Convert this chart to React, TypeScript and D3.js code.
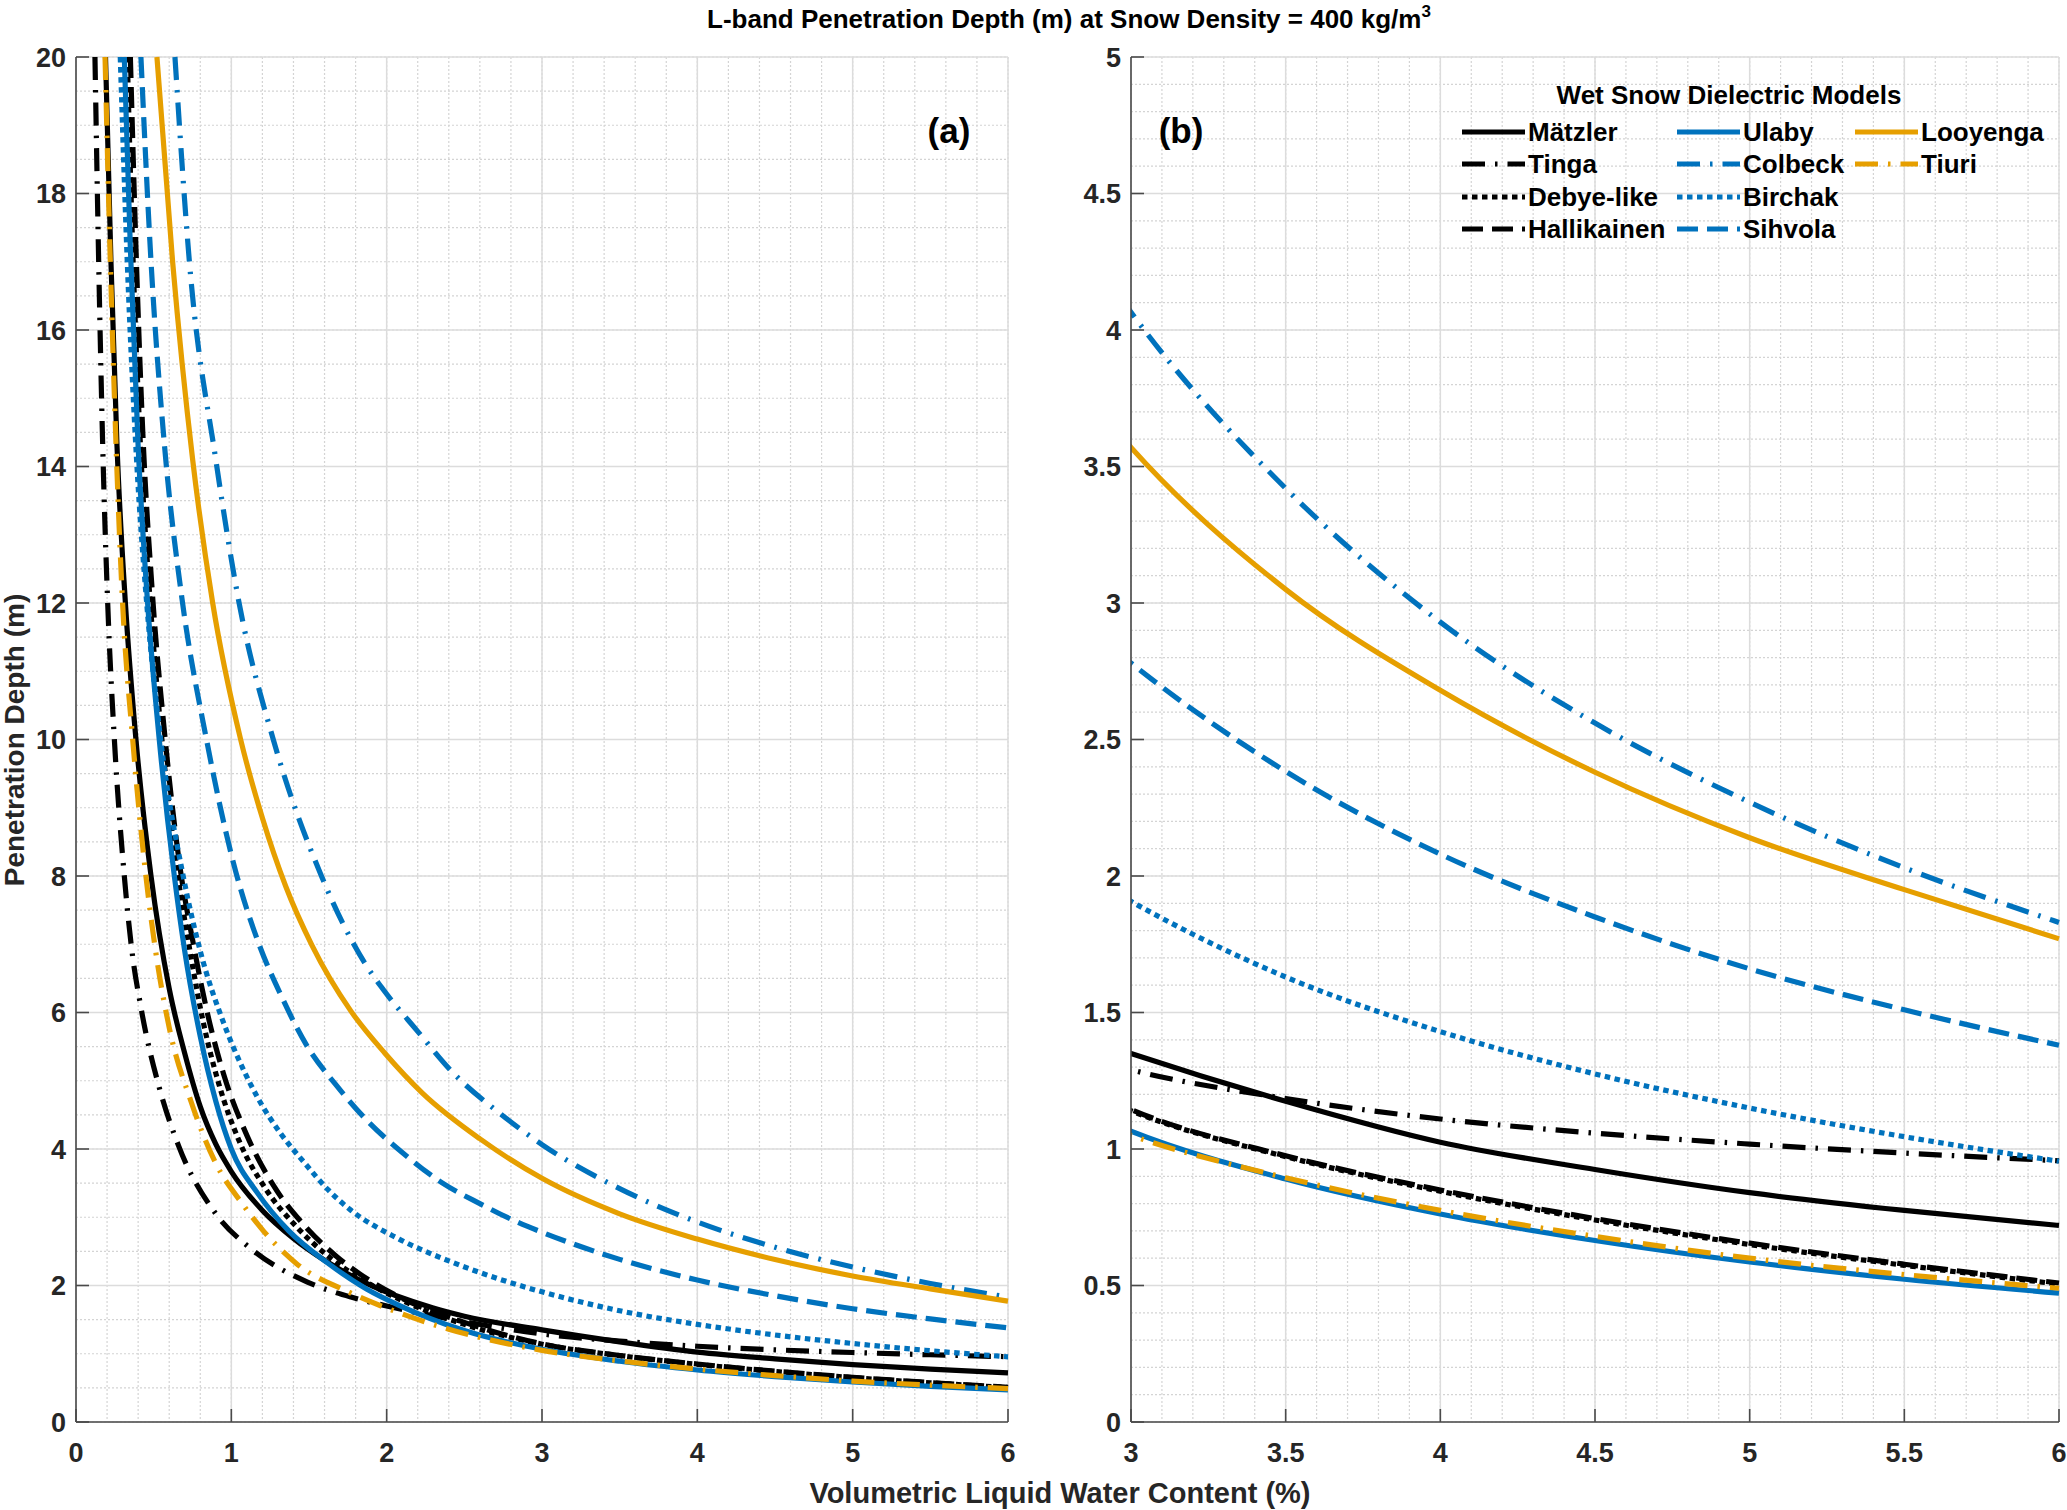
import { useEffect, useRef } from 'react';
import * as d3 from 'd3';

type Pt = [number, number];

// penetration depth (m) vs volumetric liquid water content (%)
const matzler: Pt[] = [
  [0.19, 20], [0.225, 17], [0.264, 14.3], [0.318, 12], [0.386, 10], [0.483, 8], [0.6, 6.35], [0.7, 5.4],
  [0.8, 4.62], [0.9, 4.07], [1.0, 3.67], [1.2, 3.1], [1.4, 2.69], [1.6, 2.37], [1.87, 2.03], [2.3, 1.67],
  [2.5, 1.55], [3, 1.35], [3.5, 1.175], [4, 1.025], [4.5, 0.925], [5, 0.84], [5.5, 0.775], [6, 0.72],
];
const tinga: Pt[] = [
  [0.122, 20], [0.146, 17], [0.172, 14.3], [0.204, 12], [0.247, 10], [0.311, 8], [0.358, 6.94], [0.42, 6.05],
  [0.536, 4.9], [0.66, 4.05], [0.9, 3.05], [1.12, 2.55], [1.49, 2.05], [1.77, 1.83], [2.0, 1.7], [2.5, 1.47],
  [3, 1.29], [3.5, 1.185], [4, 1.11], [4.5, 1.058], [5, 1.018], [5.5, 0.985], [6, 0.957],
];
const debyeLike: Pt[] = [
  [0.33, 20], [0.365, 17.2], [0.415, 14.3], [0.475, 12.1], [0.553, 10], [0.65, 8.1], [0.73, 6.95], [0.82, 5.85],
  [0.92, 4.95], [1.05, 4.12], [1.22, 3.42], [1.42, 2.86], [1.64, 2.4], [1.9, 2.01], [2.1, 1.78], [2.5, 1.43],
  [3, 1.14], [3.5, 0.972], [4, 0.845], [4.5, 0.74], [5, 0.65], [5.5, 0.574], [6, 0.505],
];
const hallikainen: Pt[] = [
  [0.35, 20], [0.386, 17.2], [0.43, 14.5], [0.49, 12.2], [0.57, 10.1], [0.665, 8.2], [0.76, 6.95], [0.85, 5.95],
  [0.95, 5.1], [1.1, 4.2], [1.27, 3.47], [1.47, 2.88], [1.67, 2.44], [1.9, 2.06], [2.1, 1.81], [2.5, 1.46],
  [3, 1.145], [3.5, 0.975], [4, 0.85], [4.5, 0.745], [5, 0.655], [5.5, 0.578], [6, 0.509],
];
const ulaby: Pt[] = [
  [0.311, 20], [0.35, 17.2], [0.4, 14.3], [0.461, 12], [0.536, 10], [0.633, 8], [0.7, 6.9], [0.8, 5.65],
  [0.9, 4.7], [1.0, 4.0], [1.17, 3.35], [1.37, 2.8], [1.62, 2.33], [1.87, 1.95], [2.08, 1.71], [2.5, 1.34],
  [3, 1.065], [3.5, 0.89], [4, 0.762], [4.5, 0.665], [5, 0.586], [5.5, 0.523], [6, 0.472],
];
const colbeck: Pt[] = [
  [0.637, 20], [0.73, 17], [0.9, 14.1], [1.05, 12], [1.27, 10], [1.58, 8], [1.86, 6.72], [1.99, 6.3],
  [2.19, 5.75], [2.43, 5.11], [2.73, 4.52], [3, 4.065], [3.5, 3.42], [4, 2.93], [4.5, 2.56], [5, 2.27],
  [5.5, 2.03], [6, 1.83],
];
const birchak: Pt[] = [
  [0.285, 20], [0.33, 17], [0.39, 14.1], [0.455, 12], [0.545, 10], [0.69, 8], [0.8, 6.9], [0.95, 5.85],
  [1.07, 5.2], [1.17, 4.75], [1.32, 4.22], [1.47, 3.8], [1.62, 3.41], [1.76, 3.12], [2.08, 2.68], [2.4, 2.36],
  [2.73, 2.09], [3, 1.907], [3.5, 1.63], [4, 1.43], [4.5, 1.275], [5, 1.15], [5.5, 1.045], [6, 0.955],
];
const sihvola: Pt[] = [
  [0.418, 20], [0.483, 17], [0.57, 14.3], [0.68, 12.1], [0.84, 10], [1.03, 8.05], [1.17, 7.05], [1.32, 6.25],
  [1.49, 5.5], [1.67, 4.95], [1.86, 4.45], [2.11, 3.93], [2.36, 3.5], [2.6, 3.2], [2.85, 2.92], [3, 2.78],
  [3.5, 2.383], [4, 2.08], [4.5, 1.85], [5, 1.66], [5.5, 1.51], [6, 1.38],
];
const looyenga: Pt[] = [
  [0.521, 20], [0.622, 17], [0.751, 14.1], [0.88, 12], [1.06, 10], [1.2, 8.85], [1.35, 7.85], [1.52, 6.98],
  [1.77, 6.02], [1.99, 5.4], [2.23, 4.82], [2.6, 4.15], [3, 3.57], [3.5, 3.05], [4, 2.68], [4.5, 2.38],
  [5, 2.14], [5.5, 1.95], [6, 1.77],
];
const tiuri: Pt[] = [
  [0.187, 20], [0.221, 17], [0.258, 14.3], [0.3, 12], [0.365, 10], [0.45, 8], [0.51, 6.94], [0.6, 5.78],
  [0.74, 4.7], [0.9, 3.79], [1.07, 3.2], [1.21, 2.79], [1.42, 2.32], [1.76, 1.9], [2.08, 1.6], [2.4, 1.36],
  [2.73, 1.17], [3, 1.05], [3.5, 0.895], [4, 0.775], [4.5, 0.68], [5, 0.6], [5.5, 0.54], [6, 0.49],
];

const BLACK = '#000000';
const BLUE = '#0072BD';
const ORANGE = '#E69F00';

const SOLID = '';
const DASHED = '21,9';
const DASHDOT = '23,10,2.5,10';
const DOTTED = '5.5,4.5';
const LW = 5.2;

// legend order (column-major), also drawing order
const series = [
  { name: 'Mätzler', data: matzler, color: BLACK, dash: SOLID },
  { name: 'Tinga', data: tinga, color: BLACK, dash: DASHDOT },
  { name: 'Debye-like', data: debyeLike, color: BLACK, dash: DOTTED },
  { name: 'Hallikainen', data: hallikainen, color: BLACK, dash: DASHED },
  { name: 'Ulaby', data: ulaby, color: BLUE, dash: SOLID },
  { name: 'Colbeck', data: colbeck, color: BLUE, dash: DASHDOT },
  { name: 'Birchak', data: birchak, color: BLUE, dash: DOTTED },
  { name: 'Sihvola', data: sihvola, color: BLUE, dash: DASHED },
  { name: 'Looyenga', data: looyenga, color: ORANGE, dash: SOLID },
  { name: 'Tiuri', data: tiuri, color: ORANGE, dash: DASHDOT },
];

const W = 2067;
const H = 1510;
const FONT = '"Liberation Sans", Arial, Helvetica, sans-serif';

interface PanelSpec {
  id: string;
  box: { x0: number; x1: number; y0: number; y1: number };
  xDom: [number, number];
  yDom: [number, number];
  xMajor: number;
  xMinor: number;
  yMajor: number;
  yMinor: number;
  tag: string;
  tagX: number;
}

const stepTicks = (lo: number, hi: number, step: number) => {
  const n = Math.round((hi - lo) / step);
  return d3.range(n + 1).map(i => +(lo + i * step).toFixed(6));
};

export default function App() {
  const svgRef = useRef<SVGSVGElement>(null);

  useEffect(() => {
    if (!svgRef.current) return;
    const svg = d3.select(svgRef.current);
    svg.selectAll('*').remove();
    svg.style('font-family', FONT);

    const panels: PanelSpec[] = [
      { id: 'a', box: { x0: 76, x1: 1008, y0: 57, y1: 1422 }, xDom: [0, 6], yDom: [0, 20],
        xMajor: 1, xMinor: 0.2, yMajor: 2, yMinor: 0.5, tag: '(a)', tagX: 949 },
      { id: 'b', box: { x0: 1131, x1: 2059, y0: 57, y1: 1422 }, xDom: [3, 6], yDom: [0, 5],
        xMajor: 0.5, xMinor: 0.1, yMajor: 0.5, yMinor: 0.1, tag: '(b)', tagX: 1181 },
    ];

    panels.forEach(p => {
      const x = d3.scaleLinear().domain(p.xDom).range([p.box.x0, p.box.x1]);
      const y = d3.scaleLinear().domain(p.yDom).range([p.box.y1, p.box.y0]);
      const g = svg.append('g');

      // minor grid
      g.append('g').selectAll('line')
        .data(stepTicks(p.xDom[0], p.xDom[1], p.xMinor))
        .join('line')
        .attr('x1', d => x(d)).attr('x2', d => x(d))
        .attr('y1', p.box.y0).attr('y2', p.box.y1)
        .attr('stroke', '#d4d4d4').attr('stroke-width', 1.2).attr('stroke-dasharray', '2,2');
      g.append('g').selectAll('line')
        .data(stepTicks(p.yDom[0], p.yDom[1], p.yMinor))
        .join('line')
        .attr('y1', d => y(d)).attr('y2', d => y(d))
        .attr('x1', p.box.x0).attr('x2', p.box.x1)
        .attr('stroke', '#d4d4d4').attr('stroke-width', 1.2).attr('stroke-dasharray', '2,2');

      // major grid
      const xMaj = stepTicks(p.xDom[0], p.xDom[1], p.xMajor);
      const yMaj = stepTicks(p.yDom[0], p.yDom[1], p.yMajor);
      g.append('g').selectAll('line')
        .data(xMaj)
        .join('line')
        .attr('x1', d => x(d)).attr('x2', d => x(d))
        .attr('y1', p.box.y0).attr('y2', p.box.y1)
        .attr('stroke', '#dcdcdc').attr('stroke-width', 1.5);
      g.append('g').selectAll('line')
        .data(yMaj)
        .join('line')
        .attr('y1', d => y(d)).attr('y2', d => y(d))
        .attr('x1', p.box.x0).attr('x2', p.box.x1)
        .attr('stroke', '#dcdcdc').attr('stroke-width', 1.5);

      // curves
      const clipId = `clip-${p.id}`;
      svg.append('clipPath').attr('id', clipId)
        .append('rect')
        .attr('x', p.box.x0).attr('y', p.box.y0 - 3)
        .attr('width', p.box.x1 - p.box.x0 + 4).attr('height', p.box.y1 - p.box.y0 + 3);

      const line = d3.line<Pt>()
        .x(d => x(d[0]))
        .y(d => y(d[1]))
        .curve(d3.curveMonotoneX);

      const curves = g.append('g').attr('clip-path', `url(#${clipId})`);
      series.forEach(s => {
        const pts = p.id === 'a' ? s.data : s.data.filter(d => d[0] >= 2.4);
        curves.append('path')
          .attr('d', line(pts))
          .attr('fill', 'none')
          .attr('stroke', s.color)
          .attr('stroke-width', LW)
          .attr('stroke-linecap', 'butt')
          .attr('stroke-linejoin', 'round')
          .attr('stroke-dasharray', s.dash || null);
      });

      // axes
      const ax = '#4a4a4a';
      g.append('line')
        .attr('x1', p.box.x0).attr('x2', p.box.x1)
        .attr('y1', p.box.y1).attr('y2', p.box.y1)
        .attr('stroke', ax).attr('stroke-width', 1.6);
      g.append('line')
        .attr('x1', p.box.x0).attr('x2', p.box.x0)
        .attr('y1', p.box.y0).attr('y2', p.box.y1)
        .attr('stroke', ax).attr('stroke-width', 1.6);

      g.append('g').selectAll('line')
        .data(xMaj)
        .join('line')
        .attr('x1', d => x(d)).attr('x2', d => x(d))
        .attr('y1', p.box.y1).attr('y2', p.box.y1 - 13)
        .attr('stroke', ax).attr('stroke-width', 1.6);
      g.append('g').selectAll('line')
        .data(yMaj)
        .join('line')
        .attr('y1', d => y(d)).attr('y2', d => y(d))
        .attr('x1', p.box.x0).attr('x2', p.box.x0 + 13)
        .attr('stroke', ax).attr('stroke-width', 1.6);

      // tick labels
      g.append('g').selectAll('text')
        .data(xMaj)
        .join('text')
        .attr('x', d => x(d))
        .attr('y', 1462)
        .attr('text-anchor', 'middle')
        .attr('font-size', 27)
        .attr('font-weight', 'bold')
        .attr('fill', '#262626')
        .text(d => String(d));
      g.append('g').selectAll('text')
        .data(yMaj)
        .join('text')
        .attr('x', p.box.x0 - 10)
        .attr('y', d => y(d))
        .attr('dy', '0.36em')
        .attr('text-anchor', 'end')
        .attr('font-size', 27)
        .attr('font-weight', 'bold')
        .attr('fill', '#262626')
        .text(d => String(d));

      g.append('text')
        .attr('x', p.tagX)
        .attr('y', 143)
        .attr('text-anchor', 'middle')
        .attr('font-size', 35)
        .attr('font-weight', 'bold')
        .attr('fill', '#000')
        .text(p.tag);
    });

    // title
    const title = svg.append('text')
      .attr('x', 1069)
      .attr('y', 28)
      .attr('text-anchor', 'middle')
      .attr('font-size', 26)
      .attr('font-weight', 'bold')
      .attr('fill', '#000');
    title.append('tspan').text('L-band Penetration Depth (m) at Snow Density = 400 kg/m');
    title.append('tspan').attr('dy', -11).attr('font-size', 17).text('3');

    // axis labels
    svg.append('text')
      .attr('x', 1060)
      .attr('y', 1503)
      .attr('text-anchor', 'middle')
      .attr('font-size', 29)
      .attr('font-weight', 'bold')
      .attr('fill', '#262626')
      .text('Volumetric Liquid Water Content (%)');
    svg.append('text')
      .attr('transform', 'translate(24,740) rotate(-90)')
      .attr('text-anchor', 'middle')
      .attr('font-size', 28)
      .attr('font-weight', 'bold')
      .attr('fill', '#262626')
      .text('Penetration Depth (m)');

    // legend
    const leg = svg.append('g');
    leg.append('text')
      .attr('x', 1729)
      .attr('y', 104)
      .attr('text-anchor', 'middle')
      .attr('font-size', 26)
      .attr('font-weight', 'bold')
      .attr('fill', '#000')
      .text('Wet Snow Dielectric Models');
    const colX = [1462, 1677, 1855];
    const rowY = [132, 164, 197, 229];
    series.forEach((s, i) => {
      const col = Math.floor(i / 4);
      const row = i % 4;
      const lx = colX[col];
      const ly = rowY[row];
      leg.append('line')
        .attr('x1', lx).attr('x2', lx + 63)
        .attr('y1', ly).attr('y2', ly)
        .attr('stroke', s.color)
        .attr('stroke-width', LW)
        .attr('stroke-dasharray', s.dash || null);
      leg.append('text')
        .attr('x', lx + 66)
        .attr('y', ly + 9)
        .attr('font-size', 26)
        .attr('font-weight', 'bold')
        .attr('fill', '#000')
        .text(s.name);
    });
  }, []);

  return (
    <svg
      ref={svgRef}
      width={W}
      height={H}
      style={{ position: 'absolute', left: 0, top: 0, background: '#ffffff', display: 'block' }}
    />
  );
}
